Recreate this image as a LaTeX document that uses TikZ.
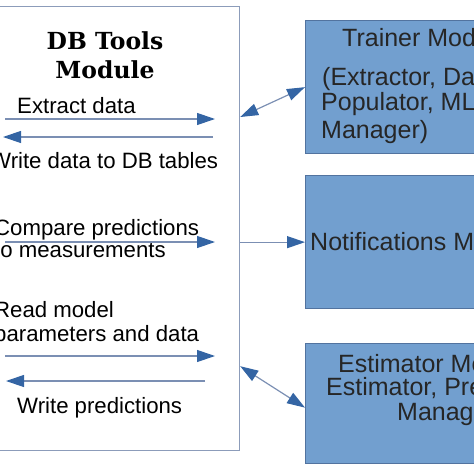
\documentclass[tikz,border=0pt]{standalone}
\usepackage{fontspec}
\setmainfont{Liberation Sans}
\newfontfamily\titlefont{DejaVu Serif}
\usetikzlibrary{arrows.meta}
\definecolor{dbLine}{HTML}{8C9CBA}
\definecolor{flowLine}{HTML}{7B8FB3}
\definecolor{tipBlue}{HTML}{3465A4}
\definecolor{modFill}{HTML}{729FCF}
\definecolor{modLine}{HTML}{52739F}

\begin{document}
\begin{tikzpicture}[
    x=1pt, y=-1pt,
    >={Triangle[length=18pt, width=12pt, color=tipBlue, fill=tipBlue]},
    dbbox/.style={draw=dbLine, line width=1.2pt, anchor=north west,
                  minimum width=269pt, minimum height=444pt},
    modbox/.style={fill=modFill, draw=modLine, line width=1.3pt,
                   anchor=north west, minimum width=300pt},
    dbtitle/.style={align=center, inner sep=0pt, anchor=base,
                    font=\titlefont\bfseries\fontsize{23.5}{29}\selectfont},
    lbl/.style={anchor=base west, inner sep=0pt,
                font=\fontsize{22.2}{24}\selectfont},
    modlbl/.style={lbl, font=\fontsize{25}{28}\selectfont, text=black!85},
    flow/.style={draw=flowLine, line width=1.2pt, ->},
    link/.style={draw=flowLine, line width=1.2pt, <->}
]
\useasboundingbox (0,0) rectangle (474,474);
\clip (0,0) rectangle (474,474);

% DB tools module
\node[dbbox] (db) at (-30,6) {};
\node[dbtitle] (dbname) at (105,78) {DB Tools\\Module};

\node[lbl] (extract) at (17,113) {Extract data};
\node[lbl] (writedata) at (-10,168) {Write data to DB tables};
\node[lbl] (compare) at (-6,235) {Compare predictions};
\node[lbl] (measure) at (-6,257) {to measurements};
\node[lbl] (readmodel) at (-6,317) {Read model};
\node[lbl] (params) at (-6,341) {parameters and data};
\node[lbl] (writepred) at (17,413) {Write predictions};

\coordinate (extract-a) at (5,119);    \coordinate (extract-b) at (215,119);
\coordinate (writedata-a) at (213,137); \coordinate (writedata-b) at (3,137);
\coordinate (compare-a) at (5,242);    \coordinate (compare-b) at (215,242);
\coordinate (read-a) at (5,356);       \coordinate (read-b) at (215,356);
\coordinate (writepred-a) at (205,381); \coordinate (writepred-b) at (6,381);

\draw[flow] (extract-a) -- (extract-b);
\draw[flow] (writedata-a) -- (writedata-b);
\draw[flow] (compare-a) -- (compare-b);
\draw[flow] (read-a) -- (read-b);
\draw[flow] (writepred-a) -- (writepred-b);

% other modules
\node[modbox, minimum height=133pt] (trainer) at (305,20) {};
\node[modbox, minimum height=133pt] (notif) at (305,175) {};
\node[modbox, minimum height=120pt] (estim) at (305,343) {};

\node[modlbl] (trainername) at (342,46) {Trainer Module};
\node[modlbl] (trainer1) at (322,85) {(Extractor, Data};
\node[modlbl] (trainer2) at (321,110) {Populator, ML Model};
\node[modlbl] (trainer3) at (321,138) {Manager)};
\node[modlbl] (notifname) at (310,250) {Notifications Module};
\node[modlbl] (estimname) at (338,372) {Estimator Module};
\node[modlbl] (estim1) at (326,395) {Estimator, Predictions};
\node[modlbl] (estim2) at (397,420) {Manager)};

\draw[link] ([yshift=-111pt]db.north east) -- (trainer.west);
\draw[flow] (db.east |- notif.west) -- (notif.west);
\draw[link] ([yshift=85pt]db.south east) -- ([yshift=-4pt]estim.west);
\end{tikzpicture}
\end{document}
